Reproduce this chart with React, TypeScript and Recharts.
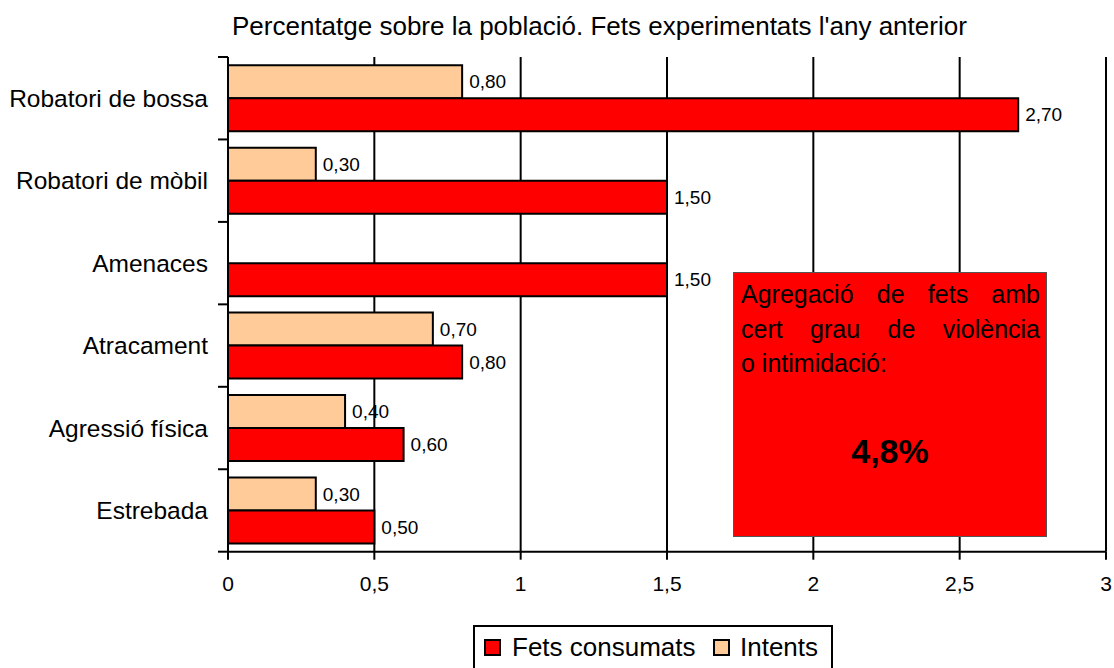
import React from 'react';
import { BarChart, Bar, XAxis, YAxis, CartesianGrid, LabelList } from 'recharts';

const categories = ['Robatori de bossa', 'Robatori de mòbil', 'Amenaces', 'Atracament', 'Agressió física', 'Estrebada'];
const consumats = [2.7, 1.5, 1.5, 0.8, 0.6, 0.5];
const intents: (number | null)[] = [0.8, 0.3, null, 0.7, 0.4, 0.3];
const xTicks = [0, 0.5, 1, 1.5, 2, 2.5, 3];

const data = categories.map((name, i) => ({ name, consumats: consumats[i], intents: intents[i] }));

const W = 1114;
const H = 668;
const TOP = 57;
const AXIS_X = 228;
const X_AXIS_H = 116.3;
const PLOT_H = H - TOP - X_AXIS_H;
const BAND = PLOT_H / categories.length;
const FONT = '"Liberation Sans", Arial, sans-serif';

const fmt = (v: any) => (v === null || v === undefined ? '' : Number(v).toFixed(2).replace('.', ','));

const CatTick = (props: any) => {
  const { y, payload, index } = props;
  const half = BAND / 2;
  return (
    <g>
      <text x={AXIS_X - 20} y={y} dy="0.355em" textAnchor="end" fontSize={24.5} fill="#000" fontFamily={FONT}>
        {payload.value}
      </text>
      <line x1={AXIS_X - 10} x2={AXIS_X} y1={y - half} y2={y - half} stroke="#000" strokeWidth={2} />
      {index === categories.length - 1 && (
        <line x1={AXIS_X - 10} x2={AXIS_X} y1={y + half} y2={y + half} stroke="#000" strokeWidth={2} />
      )}
    </g>
  );
};

export default function App() {
  return (
    <div style={{ position: 'absolute', left: 0, top: 0, width: W, height: H, overflow: 'hidden', fontFamily: FONT, background: '#fff' }}>
      <div style={{ position: 'absolute', left: 232, top: 11, fontSize: 26, lineHeight: '30px', color: '#000', whiteSpace: 'nowrap' }}>
        Percentatge sobre la població. Fets experimentats l'any anterior
      </div>
      <BarChart
        width={W}
        height={H}
        data={data}
        layout="vertical"
        margin={{ top: TOP, right: 8, left: 0, bottom: 0 }}
        barCategoryGap="10%"
        barGap={0}
      >
        <CartesianGrid horizontal={false} vertical={true} stroke="#000" strokeWidth={2} />
        <XAxis
          type="number"
          domain={[0, 3]}
          ticks={xTicks}
          interval={0}
          height={X_AXIS_H}
          tickSize={8}
          tickMargin={16}
          tickFormatter={(v: number) => String(v).replace('.', ',')}
          tick={{ fontSize: 21, fill: '#000', fontFamily: FONT }}
          axisLine={{ stroke: '#000', strokeWidth: 2 }}
          tickLine={{ stroke: '#000', strokeWidth: 2 }}
        />
        <XAxis
          xAxisId="top"
          orientation="top"
          type="number"
          domain={[0, 3]}
          height={0}
          tick={false}
          tickLine={false}
          axisLine={{ stroke: '#000', strokeWidth: 2 }}
        />
        <YAxis
          type="category"
          dataKey="name"
          width={AXIS_X}
          interval={0}
          tickLine={false}
          tick={<CatTick />}
          axisLine={{ stroke: '#000', strokeWidth: 2 }}
        />
        <Bar dataKey="intents" fill="#FFCC99" stroke="#000" strokeWidth={2} isAnimationActive={false}>
          <LabelList dataKey="intents" position="right" offset={7} formatter={fmt} fontSize={19} fill="#000" fontFamily={FONT} />
        </Bar>
        <Bar dataKey="consumats" fill="#FF0000" stroke="#000" strokeWidth={2} isAnimationActive={false}>
          <LabelList dataKey="consumats" position="right" offset={7} formatter={fmt} fontSize={19} fill="#000" fontFamily={FONT} />
        </Bar>
      </BarChart>

      <div
        style={{
          position: 'absolute',
          left: 733,
          top: 272,
          width: 314,
          height: 265,
          boxSizing: 'border-box',
          background: '#FF0000',
          border: '1px solid #555',
          padding: '4px 6px 0 7px',
          color: '#000',
          fontSize: 25,
          lineHeight: '34.5px',
        }}
      >
        <div style={{ textAlign: 'justify', textAlignLast: 'justify', whiteSpace: 'nowrap' }}>Agregació de fets amb</div>
        <div style={{ textAlign: 'justify', textAlignLast: 'justify', whiteSpace: 'nowrap' }}>cert grau de violència</div>
        <div style={{ textAlign: 'left', whiteSpace: 'nowrap' }}>o intimidació:</div>
        <div style={{ position: 'absolute', left: 0, right: 0, top: 158, textAlign: 'center', fontWeight: 'bold', fontSize: 34, lineHeight: '40px' }}>
          4,8%
        </div>
      </div>

      <div
        style={{
          position: 'absolute',
          left: 473,
          top: 625,
          width: 360,
          height: 70,
          boxSizing: 'border-box',
          border: '2px solid #000',
          background: '#fff',
        }}
      >
        <div style={{ position: 'absolute', left: 9, top: 12, width: 17, height: 17, boxSizing: 'border-box', background: '#FF0000', border: '2px solid #000' }} />
        <div style={{ position: 'absolute', left: 37, top: 4, fontSize: 26, lineHeight: '32px', whiteSpace: 'nowrap' }}>Fets consumats</div>
        <div style={{ position: 'absolute', left: 238, top: 12, width: 17, height: 17, boxSizing: 'border-box', background: '#FFCC99', border: '2px solid #000' }} />
        <div style={{ position: 'absolute', left: 265, top: 4, fontSize: 26, lineHeight: '32px', whiteSpace: 'nowrap' }}>Intents</div>
      </div>
    </div>
  );
}
